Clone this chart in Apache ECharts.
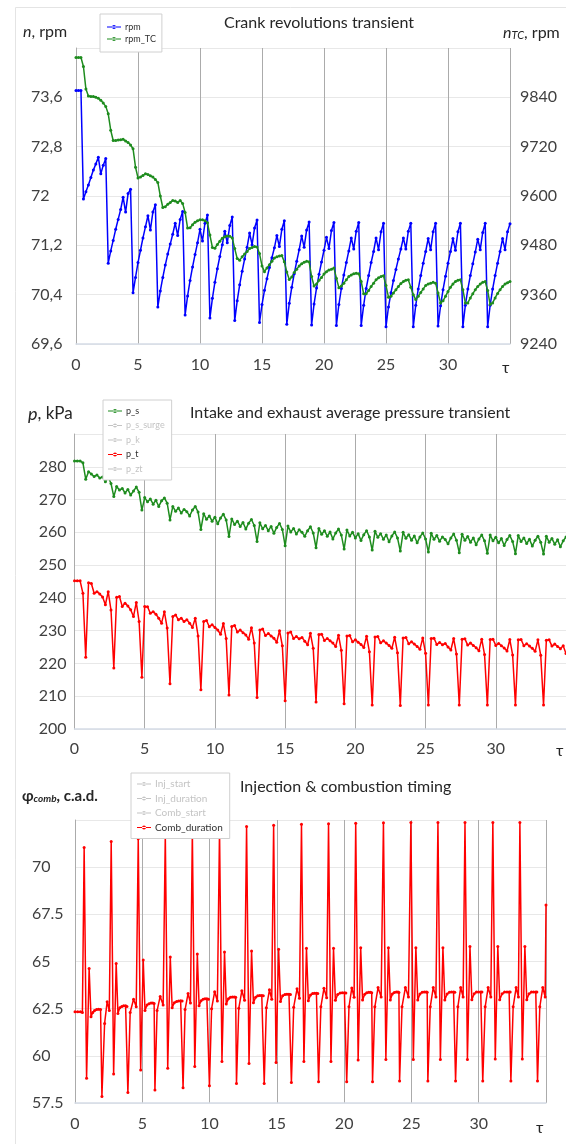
<!DOCTYPE html>
<html>
<head>
<meta charset="utf-8">
<script src="https://cdn.jsdelivr.net/npm/echarts@6/dist/echarts.min.js"></script>
<style>
  html, body { margin: 0; padding: 0; background: #fff; }
  #chart { width: 566px; height: 1144px; }
</style>
</head>
<body>
<div id="chart"></div>
<script>
// Sample interval (τ) of the crank-speed and pressure records
const TAU_STEP = 0.2;

// Crank revolutions, rpm (left axis of the top panel)
const rpm = [
  73.71, 73.71, 73.71,
  71.95, 72.07, 72.18, 72.30, 72.42, 72.52, 72.63, 72.36, 72.50, 72.61,
  70.91, 71.11, 71.28, 71.46, 71.62, 71.78, 71.98, 71.74, 72.04, 72.11,
  70.43, 70.68, 70.92, 71.12, 71.32, 71.50, 71.68, 71.45, 71.74, 71.86,
  70.20, 70.46, 70.68, 70.88, 71.06, 71.22, 71.38, 71.56, 71.36, 71.62, 71.75,
  70.07, 70.38, 70.63, 70.85, 71.05, 71.24, 71.46, 71.27, 71.56, 71.69,
  70.02, 70.34, 70.60, 70.82, 71.02, 71.21, 71.43, 71.24, 71.52, 71.66,
  69.98, 70.30, 70.56, 70.78, 70.98, 71.17, 71.40, 71.21, 71.48, 71.61,
  69.95, 70.24, 70.47, 70.66, 70.84, 71.00, 71.16, 71.36, 71.18, 71.46, 71.60,
  69.92, 70.26, 70.52, 70.74, 70.94, 71.13, 71.35, 71.17, 71.45, 71.58,
  69.91, 70.25, 70.51, 70.73, 70.93, 71.12, 71.33, 71.15, 71.44, 71.57,
  69.90, 70.24, 70.50, 70.72, 70.92, 71.11, 71.32, 71.14, 71.43, 71.57,
  69.90, 70.23, 70.50, 70.71, 70.92, 71.10, 71.32, 71.13, 71.42, 71.56,
  69.88, 70.20, 70.43, 70.63, 70.81, 70.98, 71.14, 71.32, 71.14, 71.43, 71.56,
  69.88, 70.23, 70.49, 70.71, 70.91, 71.10, 71.31, 71.13, 71.42, 71.56,
  69.89, 70.22, 70.48, 70.70, 70.91, 71.10, 71.31, 71.12, 71.42, 71.56,
  69.88, 70.23, 70.49, 70.71, 70.90, 71.09, 71.30, 71.13, 71.41, 71.56,
  69.88, 70.23, 70.49, 70.71, 70.91, 71.10, 71.31, 71.13, 71.42, 71.55
];

// Turbocharger revolutions, rpm (right axis of the top panel)
const rpmTC = [
  9937, 9937, 9937, 9915, 9860, 9843, 9842, 9842, 9840, 9838,
  9833, 9826, 9818, 9800, 9760, 9735, 9735, 9736, 9737, 9738,
  9734, 9730, 9724, 9715, 9670, 9644, 9646, 9650, 9654, 9652,
  9649, 9646, 9640, 9633, 9600, 9572, 9574, 9580, 9584, 9589,
  9588, 9584, 9589, 9582, 9560, 9522, 9523, 9530, 9536, 9540,
  9542, 9542, 9540, 9535, 9505, 9475, 9473, 9482, 9490, 9497,
  9501, 9503, 9502, 9498, 9472, 9448, 9444, 9452, 9459, 9465,
  9472, 9475, 9477, 9476, 9460, 9430, 9416, 9425, 9433, 9441,
  9449, 9452, 9454, 9455, 9440, 9415, 9397, 9403, 9414, 9422,
  9430, 9435, 9439, 9441, 9440, 9404, 9381, 9386, 9395, 9402,
  9410, 9416, 9420, 9422, 9425, 9400, 9377, 9381, 9388, 9396,
  9404, 9408, 9411, 9412, 9411, 9392, 9362, 9362, 9370, 9380,
  9388, 9396, 9401, 9404, 9406, 9382, 9354, 9356, 9364, 9372,
  9380, 9387, 9392, 9395, 9396, 9378, 9360, 9348, 9356, 9365,
  9374, 9382, 9386, 9388, 9390, 9388, 9364, 9340, 9345, 9356,
  9368, 9378, 9386, 9392, 9395, 9396, 9372, 9340, 9340, 9352,
  9362, 9372, 9380, 9386, 9390, 9392, 9370, 9336, 9340, 9352,
  9363, 9372, 9380, 9386, 9389, 9392
];

// Average intake (p_s) and exhaust (p_t) pressure, kPa
const pS = [
  281.8, 281.8, 281.8, 281.2,
  276.2, 278.5, 277.8, 277.0, 277.5, 276.6, 276.9, 275.4, 277.0, 274.9,
  270.9, 274.0, 272.9, 273.4, 272.0, 273.1, 271.4, 272.6, 273.8, 272.2,
  266.8, 270.6, 269.3, 270.2, 268.6, 269.8, 267.9, 269.6, 270.5, 268.9,
  263.8, 267.9, 266.4, 267.4, 265.9, 267.0, 266.3, 265.0, 266.8, 267.9, 266.2,
  260.9, 265.7, 264.0, 265.0, 263.4, 264.6, 262.6, 264.4, 265.5, 263.8,
  258.7, 264.1, 262.4, 263.4, 261.8, 263.0, 261.0, 262.8, 263.9, 262.1,
  257.2, 262.9, 261.1, 262.1, 260.5, 261.8, 259.7, 261.5, 262.7, 260.9,
  255.9, 261.9, 260.1, 261.2, 259.5, 260.8, 260.0, 258.8, 260.5, 261.7, 259.8,
  255.3, 261.2, 259.4, 260.5, 258.8, 260.1, 258.0, 259.8, 261.0, 259.2,
  254.9, 260.7, 258.9, 260.0, 258.3, 259.6, 257.5, 259.3, 260.5, 258.6,
  254.6, 260.3, 258.5, 259.6, 257.9, 259.2, 257.1, 258.9, 260.1, 258.3,
  254.3, 260.0, 258.2, 259.3, 257.6, 258.9, 256.8, 258.6, 259.8, 258.0,
  254.0, 259.7, 257.9, 259.0, 257.3, 258.6, 257.8, 256.5, 258.3, 259.5, 257.6,
  253.8, 259.4, 257.6, 258.7, 257.0, 258.3, 256.2, 258.0, 259.2, 257.4,
  253.6, 259.2, 257.4, 258.5, 256.8, 258.1, 256.0, 257.8, 259.0, 257.2,
  253.5, 259.0, 257.2, 258.3, 256.6, 257.9, 255.8, 257.6, 258.8, 257.0,
  253.4, 258.8, 257.0, 258.1, 256.4, 257.7, 255.6, 257.4, 258.6
];

const pT = [
  245.2, 245.2, 245.2, 241.4,
  221.9, 244.6, 244.4, 241.4, 241.9, 241.2, 240.3, 237.9, 241.9, 236.3,
  218.6, 240.2, 240.4, 237.4, 238.4, 237.5, 236.4, 234.3, 238.6, 232.8,
  215.8, 237.4, 237.3, 235.3, 235.8, 235.0, 233.8, 232.3, 235.8, 230.8,
  213.8, 234.3, 234.8, 233.3, 233.8, 232.8, 233.3, 232.3, 231.0, 233.8, 228.4,
  212.0, 232.8, 233.1, 231.2, 231.8, 231.0, 230.2, 228.9, 232.2, 227.6,
  210.4, 231.3, 231.6, 229.6, 230.2, 229.4, 228.7, 227.4, 230.9, 226.2,
  209.6, 230.2, 230.5, 228.5, 229.1, 228.4, 227.7, 226.5, 230.0, 225.4,
  208.6, 229.3, 229.6, 227.6, 228.2, 227.5, 227.9, 226.8, 225.7, 229.2, 224.6,
  208.2, 228.8, 228.9, 227.0, 227.6, 226.9, 226.2, 225.2, 228.6, 224.0,
  207.7, 228.4, 228.5, 226.6, 227.2, 226.5, 225.8, 224.9, 228.3, 223.6,
  207.3, 228.1, 228.2, 226.3, 226.9, 226.2, 225.5, 224.6, 228.0, 223.3,
  207.2, 227.8, 227.9, 226.0, 226.6, 225.9, 225.2, 224.3, 227.8, 223.1,
  207.3, 227.6, 227.7, 225.8, 226.4, 225.7, 226.1, 225.0, 224.1, 227.6, 222.9,
  207.3, 227.4, 227.5, 225.6, 226.2, 225.5, 224.8, 223.9, 227.4, 222.7,
  207.3, 227.3, 227.4, 225.5, 226.1, 225.4, 224.7, 223.8, 227.3, 222.6,
  207.3, 227.2, 227.3, 225.4, 226.0, 225.3, 224.6, 223.7, 227.2, 222.5,
  207.3, 227.1, 227.2, 225.3, 225.9, 225.2, 224.5, 225.4, 223.0
];

// Combustion duration, c.a.d., as [τ, value] (variable-step record)
const combDuration = [
  [0, 62.34], [0.2, 62.34], [0.4, 62.33], [0.55, 62.3],
  [0.68, 71.04], [0.86, 58.81], [1.05, 64.63], [1.19, 62.07], [1.32, 62.3], [1.45, 62.4], [1.6, 62.45], [1.75, 62.47], [1.9, 62.45], [2.0, 57.84], [2.2, 61.72], [2.39, 62.87], [2.55, 62.4],
  [2.69, 71.36], [2.87, 59.04], [3.06, 64.9], [3.19, 62.25], [3.33, 62.55], [3.48, 62.62], [3.62, 62.66], [3.76, 62.66], [3.86, 62.62], [3.93, 58.05], [4.1, 62.3], [4.35, 63.0], [4.55, 62.6],
  [4.7, 71.5], [4.88, 59.25], [5.07, 65.08], [5.2, 62.4], [5.35, 62.7], [5.5, 62.76], [5.65, 62.8], [5.78, 62.8], [5.88, 62.78], [5.94, 58.19], [6.1, 62.4], [6.33, 63.15], [6.55, 62.7],
  [6.71, 71.75], [6.89, 59.34], [7.08, 65.24], [7.22, 62.55], [7.38, 62.82], [7.55, 62.88], [7.7, 62.9], [7.85, 62.92], [7.96, 62.9], [8.03, 58.31], [8.18, 62.45], [8.4, 63.3], [8.58, 62.8],
  [8.72, 71.9], [8.9, 59.43], [9.09, 65.4], [9.22, 62.65], [9.37, 62.92], [9.52, 63.0], [9.66, 63.02], [9.8, 63.02], [9.92, 63.0], [9.99, 58.42], [10.15, 62.5], [10.38, 63.4], [10.58, 62.9],
  [10.74, 72.0], [10.92, 59.7], [11.11, 65.5], [11.24, 62.75], [11.4, 63.02], [11.55, 63.1], [11.7, 63.12], [11.84, 63.12], [11.94, 63.1], [12.0, 58.54], [12.17, 62.52], [12.4, 63.45], [12.6, 62.95],
  [12.75, 72.15], [12.93, 59.6], [13.12, 65.56], [13.26, 62.82], [13.42, 63.1], [13.58, 63.18], [13.73, 63.2], [13.88, 63.2], [13.99, 63.18], [14.06, 58.54], [14.22, 62.55], [14.45, 63.5], [14.62, 63.0],
  [14.76, 72.22], [14.94, 59.65], [15.13, 65.65], [15.27, 62.88], [15.43, 63.18], [15.6, 63.25], [15.75, 63.27], [15.9, 63.27], [16.01, 63.25], [16.08, 58.58], [16.25, 62.58], [16.5, 63.55], [16.68, 63.05],
  [16.83, 72.28], [17.01, 59.7], [17.2, 65.7], [17.34, 62.92], [17.5, 63.22], [17.66, 63.3], [17.8, 63.32], [17.94, 63.32], [18.04, 63.3], [18.1, 58.62], [18.27, 62.6], [18.5, 63.58], [18.7, 63.08],
  [18.84, 72.3], [19.02, 59.7], [19.21, 65.7], [19.35, 62.94], [19.52, 63.25], [19.7, 63.33], [19.86, 63.35], [20.02, 63.35], [20.13, 63.33], [20.19, 58.62], [20.36, 62.6], [20.57, 63.6], [20.74, 63.1],
  [20.86, 72.33], [21.04, 59.78], [21.23, 65.73], [21.37, 62.96], [21.53, 63.27], [21.68, 63.35], [21.83, 63.37], [21.96, 63.37], [22.05, 63.35], [22.11, 58.63], [22.28, 62.6], [22.52, 63.62], [22.75, 63.12],
  [22.92, 72.35], [23.1, 59.8], [23.29, 65.73], [23.43, 62.96], [23.58, 63.28], [23.73, 63.36], [23.88, 63.38], [24.0, 63.38], [24.07, 63.36], [24.12, 58.66], [24.3, 62.6], [24.55, 63.62], [24.78, 63.12],
  [24.96, 72.37], [25.14, 59.8], [25.33, 65.73], [25.47, 62.96], [25.63, 63.28], [25.8, 63.37], [25.96, 63.38], [26.1, 63.38], [26.17, 63.37], [26.22, 58.66], [26.4, 62.6], [26.62, 63.62], [26.82, 63.12],
  [26.97, 72.37], [27.15, 59.8], [27.34, 65.73], [27.48, 62.96], [27.65, 63.28], [27.82, 63.37], [27.98, 63.38], [28.13, 63.38], [28.22, 63.37], [28.28, 58.66], [28.45, 62.6], [28.66, 63.62], [28.84, 63.12],
  [28.98, 72.37], [29.16, 59.8], [29.35, 65.8], [29.49, 62.97], [29.66, 63.29], [29.83, 63.38], [29.99, 63.39], [30.15, 63.39], [30.24, 63.38], [30.3, 58.66], [30.48, 62.6], [30.7, 63.62], [30.9, 63.12],
  [31.05, 72.37], [31.23, 59.83], [31.42, 65.8], [31.56, 62.97], [31.74, 63.29], [31.92, 63.38], [32.1, 63.39], [32.26, 63.39], [32.34, 63.38], [32.39, 58.66], [32.56, 62.6], [32.78, 63.62], [32.95, 63.12],
  [33.06, 72.37], [33.24, 59.83], [33.43, 65.8], [33.57, 62.97], [33.74, 63.29], [33.92, 63.38], [34.08, 63.39], [34.24, 63.39], [34.32, 63.38], [34.37, 58.66], [34.54, 62.6], [34.76, 63.62], [34.94, 63.12], [35.0, 68.0]
];

// Series that are switched off in the legends (no trace drawn)
const hiddenPressure = ['p_s_surge', 'p_k', 'p_zt'];
const hiddenTiming = ['Inj_start', 'Inj_duration', 'Comb_start'];

const FONT = 'Lato, "Open Sans", "DejaVu Sans", sans-serif';
const BLUE = '#0000ff';
const GREEN = '#1e8c1e';
const RED = '#ff0000';
const TEXT = '#404040';
const INK = '#262626';
const VGRID = '#ababab';
const HGRID = '#e8e8e8';
const BASE = '#d5dce6';

const tau = rpm.map((_, i) => +(i * TAU_STEP).toFixed(1));
const onTau = vals => vals.map((v, i) => [tau[i], v]);

const legendIcon = 'path://M0,1.4h14v1.2h-14z M5,2a2,2 0 1,0 4,0a2,2 0 1,0 -4,0z';

function legendBox(left, top, names, fontSize, gap, padding, selected) {
  return {
    orient: 'vertical', left, top, padding, itemGap: gap,
    itemWidth: 14, itemHeight: 4, icon: legendIcon,
    borderColor: '#d0d0d0', borderWidth: 1, backgroundColor: '#ffffff',
    inactiveColor: '#c4c4c4', selected,
    textStyle: { fontFamily: FONT, fontSize, lineHeight: 10, color: '#303030', padding: [0, 0, 0, -1] },
    data: names
  };
}

function xAxisFor(gridIndex, margin) {
  return {
    gridIndex, type: 'value', min: 0, max: 35, interval: 5,
    axisLine: { show: true, lineStyle: { color: BASE, width: 1.5 } },
    axisTick: { show: false },
    axisLabel: { fontFamily: FONT, fontSize: 16, color: TEXT, margin, showMaxLabel: false },
    splitLine: { show: true, lineStyle: { color: VGRID, width: 1 } }
  };
}

function lineSeries(name, color, xi, yi, data) {
  return {
    type: 'line', name, xAxisIndex: xi, yAxisIndex: yi, data,
    symbol: 'circle', symbolSize: 3, showAllSymbol: true,
    lineStyle: { color, width: 1.5 }, itemStyle: { color },
    clip: true, animation: false
  };
}

// Free-standing text (panel titles, axis captions, τ markers)
function label(text, left, top, fontSize, rich, weight) {
  return {
    text, left, top, padding: 0,
    textStyle: { fontFamily: FONT, fontSize, fontWeight: weight || 'normal', color: INK, rich: rich || {} }
  };
}

const chart = echarts.init(document.getElementById('chart'), null, { renderer: 'canvas' });

const selected = {};
hiddenPressure.concat(hiddenTiming).forEach(n => { selected[n] = false; });

chart.setOption({
  backgroundColor: '#ffffff',
  animation: false,
  title: [
    label('Crank revolutions transient', 224, 15, 16),
    label('{i|n}, rpm', 23, 24, 16, {
      i: { fontFamily: FONT, fontSize: 16, fontStyle: 'italic', fontWeight: 'normal', color: INK }
    }),
    label('{i|n}{s|TC}, rpm', 503, 24, 16, {
      i: { fontFamily: FONT, fontSize: 16, fontStyle: 'italic', fontWeight: 'normal', color: INK },
      s: { fontFamily: FONT, fontSize: 11, fontStyle: 'italic', fontWeight: 'normal', color: INK, padding: [6, 0, 0, 0] }
    }),
    label('τ', 502, 360, 16),
    label('Intake and exhaust average pressure transient', 190, 405, 16),
    label('{i|p}, kPa', 28, 405, 17, {
      i: { fontFamily: FONT, fontSize: 18, fontStyle: 'italic', fontWeight: 'normal', color: INK }
    }),
    label('τ', 556, 743, 16),
    label('Injection & combustion timing', 240, 779, 16),
    label('φ{s|comb}, c.a.d.', 22, 789, 15, {
      s: { fontFamily: FONT, fontSize: 10, fontWeight: 'bold', fontStyle: 'italic', color: INK, padding: [5, 0, 0, 0] }
    }, 'bold'),
    label('τ', 536, 1120, 16)
  ],
  legend: [
    legendBox(100, 14, ['rpm', 'rpm_TC'], 9, 2, [8, 6, 8, 7], selected),
    legendBox(103, 400, ['p_s', 'p_s_surge', 'p_k', 'p_t', 'p_zt'], 9, 4.5, [6, 7, 6, 5], selected),
    legendBox(131, 773, ['Inj_start', 'Inj_duration', 'Comb_start', 'Comb_duration'], 10, 4.5, [6, 7, 6, 6], selected)
  ],
  grid: [
    { left: 76, top: 48, width: 434, height: 296 },
    { left: 74.5, top: 434, width: 494, height: 295 },
    { left: 75, top: 820, width: 471, height: 283 }
  ],
  xAxis: [xAxisFor(0, 13), xAxisFor(1, 12), xAxisFor(2, 13)],
  yAxis: [
    {
      gridIndex: 0, type: 'value', position: 'left', min: 69.6, max: 74.4, interval: 0.8,
      axisLine: { show: true, lineStyle: { color: VGRID } }, axisTick: { show: false },
      axisLabel: { fontFamily: FONT, fontSize: 16, color: TEXT, align: 'left', margin: 45, showMaxLabel: false,
        formatter: v => String(Math.round(v * 10) / 10).replace('.', ',') },
      splitLine: { show: true, lineStyle: { color: HGRID, width: 1.2 } }
    },
    {
      gridIndex: 0, type: 'value', position: 'right', min: 9240, max: 9960, interval: 120,
      axisLine: { show: false }, axisTick: { show: false },
      axisLabel: { fontFamily: FONT, fontSize: 16, color: TEXT, margin: 10, showMaxLabel: false,
        formatter: v => String(Math.round(v)) },
      splitLine: { show: false }
    },
    {
      gridIndex: 1, type: 'value', min: 200, max: 290, interval: 10,
      axisLine: { show: true, lineStyle: { color: VGRID } }, axisTick: { show: false },
      axisLabel: { fontFamily: FONT, fontSize: 16, color: TEXT, margin: 8, showMaxLabel: false },
      splitLine: { show: true, lineStyle: { color: HGRID, width: 1.2 } }
    },
    {
      gridIndex: 2, type: 'value', min: 57.5, max: 72.5, interval: 2.5,
      axisLine: { show: true, lineStyle: { color: VGRID } }, axisTick: { show: false },
      axisLabel: { fontFamily: FONT, fontSize: 16, color: TEXT, align: 'left', margin: 43, showMaxLabel: false,
        formatter: v => String(Math.round(v * 10) / 10) },
      splitLine: { show: true, lineStyle: { color: HGRID, width: 1.2 } }
    }
  ],
  graphic: [
    { type: 'polyline', silent: true, z: -10,
      shape: { points: [[15.5, 1144], [15.5, 7.5], [566, 7.5]] },
      style: { stroke: '#e4e4e4', lineWidth: 1, fill: null } }
  ],
  series: [
    lineSeries('rpm', BLUE, 0, 0, onTau(rpm)),
    lineSeries('rpm_TC', GREEN, 0, 1, onTau(rpmTC)),
    lineSeries('p_s', GREEN, 1, 2, onTau(pS)),
    lineSeries('p_s_surge', '#a0a0a0', 1, 2, []),
    lineSeries('p_k', '#a0a0a0', 1, 2, []),
    lineSeries('p_t', RED, 1, 2, onTau(pT)),
    lineSeries('p_zt', '#a0a0a0', 1, 2, []),
    lineSeries('Inj_start', '#a0a0a0', 2, 3, []),
    lineSeries('Inj_duration', '#a0a0a0', 2, 3, []),
    lineSeries('Comb_start', '#a0a0a0', 2, 3, []),
    lineSeries('Comb_duration', RED, 2, 3, combDuration)
  ]
});
</script>
</body>
</html>
